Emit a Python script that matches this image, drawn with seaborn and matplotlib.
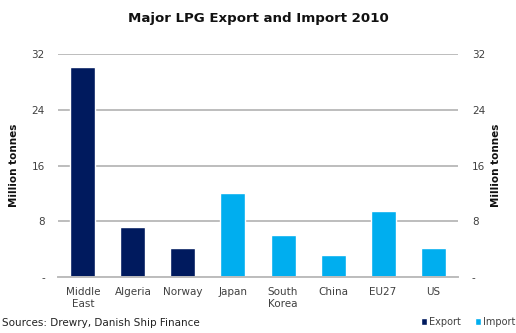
import matplotlib
matplotlib.use("Agg")
import matplotlib.pyplot as plt
import seaborn as sns
import pandas as pd

# LPG trade volumes, million tonnes, 2010
countries = ["Middle\nEast", "Algeria", "Norway", "Japan", "South\nKorea", "China", "EU27", "US"]
volumes = [30.1, 7.2, 4.2, 12.1, 6.0, 3.2, 9.5, 4.2]
flows = ["Export", "Export", "Export", "Import", "Import", "Import", "Import", "Import"]
y_ticks = [0, 8, 16, 24, 32]
y_tick_labels = ["-", "8", "16", "24", "32"]

palette = {"Export": "#001a5e", "Import": "#00aeef"}

df = pd.DataFrame({"country": countries, "volume": volumes, "flow": flows})

sns.set_theme(style="white")
plt.rcParams["font.family"] = ["DejaVu Sans"]

fig = plt.figure(figsize=(5.16, 3.33), dpi=100)
ax = fig.add_axes([0.1124, 0.1673, 0.7752, 0.6714])

sns.barplot(data=df, x="country", y="volume", hue="flow", palette=palette,
            dodge=False, width=0.5, ax=ax, legend=True, saturation=1)

ax.set_ylim(0, 32)
ax.set_xlim(-0.5, len(countries) - 0.5)
ax.set_yticks(y_ticks)
ax.set_yticklabels(y_tick_labels)
ax.yaxis.grid(True, color="#bdbdbd", linewidth=1.4)
ax.set_axisbelow(True)
for side in ["top", "right", "left"]:
    ax.spines[side].set_visible(False)
ax.spines["bottom"].set_color("#bdbdbd")
ax.spines["bottom"].set_linewidth(1.4)
ax.tick_params(axis="y", length=0, colors="#404040", labelsize=7.5, pad=9.5)
ax.tick_params(axis="x", length=0, colors="#404040", labelsize=7.5, pad=7)
ax.set_xlabel("")
ax.set_ylabel("Million tonnes", fontsize=7.5, fontweight="bold", color="#111111", labelpad=9)

ax2 = ax.twinx()
ax2.set_ylim(0, 32)
ax2.set_yticks(y_ticks)
ax2.set_yticklabels(y_tick_labels)
ax2.tick_params(axis="y", length=0, colors="#404040", labelsize=7.5, pad=10)
for side in ["top", "right", "left", "bottom"]:
    ax2.spines[side].set_visible(False)
ax2.set_ylabel("Million tonnes", fontsize=7.5, fontweight="bold", color="#111111",
               rotation=90, labelpad=4)
ax2.grid(False)

handles, labels = ax.get_legend_handles_labels()
ax.get_legend().remove()
fig.legend(handles, labels, loc="lower right", bbox_to_anchor=(1.016, -0.008), ncol=2,
           frameon=False, fontsize=7, handlelength=0.6, handleheight=0.6,
           handletextpad=0.2, columnspacing=1.5, labelcolor="#404040")

fig.text(0.5, 0.945, "Major LPG Export and Import 2010", ha="center", va="center",
         fontsize=9.6, fontweight="bold", color="#111111")
fig.text(0.003, 0.03, "Sources: Drewry, Danish Ship Finance", ha="left", va="center",
         fontsize=7.5, color="#222222")

fig.savefig("out.png", dpi=100)
